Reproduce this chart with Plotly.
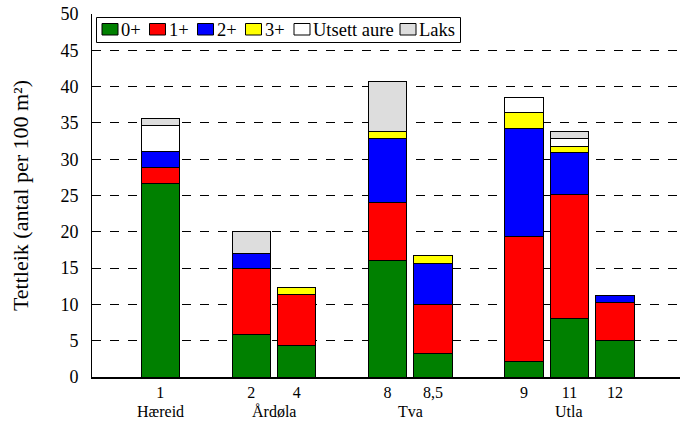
import plotly.graph_objects as go

# Data
site_labels = ["1", "2", "4", "8", "8,5", "9", "11", "12"]
slot_pos = [0, 2, 3, 5, 6, 8, 9, 10]
groups = ["Hæreid", "Årdøla", "Tva", "Utla"]
group_pos = [0, 2.5, 5.5, 9]

series_names = ["0+", "1+", "2+", "3+", "Utsett aure", "Laks"]
v_0 = [26.6, 5.9, 4.4, 16.0, 3.2, 2.2, 8.0, 5.0]
v_1 = [2.2, 9.1, 7.0, 8.0, 6.8, 17.1, 17.1, 5.3]
v_2 = [2.3, 2.0, None, 8.8, 5.7, 14.9, 5.8, 0.9]
v_3 = [None, None, 0.9, 1.0, 1.0, 2.2, 0.9, None]
v_utsett = [3.5, None, None, None, None, 2.1, 1.0, None]
v_laks = [1.0, 3.1, None, 6.9, None, None, 1.0, None]
series_values = [v_0, v_1, v_2, v_3, v_utsett, v_laks]
colors = ["#008000", "#ff0000", "#0000ff", "#ffff00", "#ffffff", "#dddddd"]

font_family = "Liberation Serif"

W, H = 680, 423
ML, MR, MT, MB = 92, 0, 14, 46
PW, PH = W - ML - MR, H - MT - MB


def px_x(px):
    return (px - ML) / PW


def px_y(py):
    return (H - MB - py) / PH


fig = go.Figure()
for name, vals, col in zip(series_names, series_values, colors):
    fig.add_trace(go.Bar(
        x=slot_pos, y=vals, name=name, width=0.84,
        marker=dict(color=col, line=dict(color="black", width=1)),
        showlegend=False,
    ))

for g, p in zip(groups, group_pos):
    fig.add_annotation(x=p, y=-0.065, xref="x", yref="paper", text=g,
                       showarrow=False, yanchor="top",
                       font=dict(family=font_family, size=16, color="black"))

# Custom legend (box + swatches + labels), laid out in pixel space
legend_swatch_left = [102, 149.5, 197.5, 245.5, 294, 400]
shapes = [dict(type="rect", xref="paper", yref="paper",
               x0=px_x(96.5), x1=px_x(460.5), y0=px_y(42.5), y1=px_y(17.5),
               line=dict(color="black", width=1), fillcolor="white", layer="above")]
for name, col, sx in zip(series_names, colors, legend_swatch_left):
    shapes.append(dict(type="rect", xref="paper", yref="paper",
                       x0=px_x(sx), x1=px_x(sx + 16), y0=px_y(35), y1=px_y(23.5),
                       line=dict(color="black", width=1), fillcolor=col, layer="above"))
    fig.add_annotation(x=px_x(sx + 17), y=px_y(30), xref="paper", yref="paper",
                       text=name, showarrow=False, xanchor="left", yanchor="middle",
                       font=dict(family=font_family, size=18.5, color="black"))

fig.update_layout(
    barmode="stack",
    width=W, height=H,
    margin=dict(l=ML, r=MR, t=MT, b=MB),
    plot_bgcolor="white", paper_bgcolor="white",
    font=dict(family=font_family, size=16, color="black"),
    showlegend=False,
    shapes=shapes,
    xaxis=dict(range=[-1.5, 11.43], tickvals=slot_pos, ticktext=site_labels,
               showgrid=False, zeroline=False, showline=True, linecolor="black",
               linewidth=2, ticks="", tickfont=dict(family=font_family, size=16)),
    yaxis=dict(range=[0, 50], dtick=5, showgrid=True, gridcolor="black",
               griddash="dash", gridwidth=1, zeroline=False, showline=True,
               linecolor="black", linewidth=1, ticks="",
               ticklabelstandoff=9,
               tickfont=dict(family=font_family, size=18),
               title=dict(text="Tettleik (antal per 100 m²)",
                          font=dict(family=font_family, size=22), standoff=25)),
)

fig.write_html("out.html")
